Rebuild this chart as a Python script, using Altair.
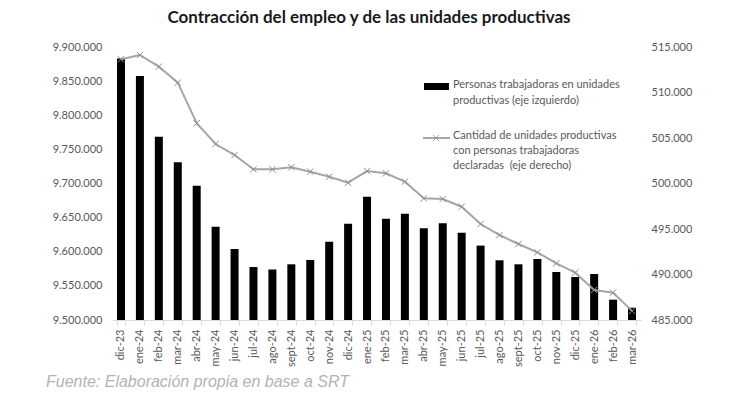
import altair as alt
import pandas as pd

# Monthly series, Dec-2023 to Mar-2026
meses = [
    "dic-23", "ene-24", "feb-24", "mar-24", "abr-24", "may-24", "jun-24",
    "jul-24", "ago-24", "sept-24", "oct-24", "nov-24", "dic-24", "ene-25",
    "feb-25", "mar-25", "abr-25", "may-25", "jun-25", "jul-25", "ago-25",
    "sept-25", "oct-25", "nov-25", "dic-25", "ene-26", "feb-26", "mar-26",
]
personas = [
    9883000, 9857500, 9768600, 9731000, 9696800, 9636700, 9604000,
    9577600, 9574000, 9581600, 9588000, 9614700, 9641000, 9680700,
    9648400, 9655800, 9634400, 9641700, 9628000, 9609000, 9587500,
    9581600, 9589400, 9570300, 9563000, 9567400, 9529800, 9518000,
]
unidades = [
    513650, 514120, 512840, 511080, 506620, 504340, 503130,
    501560, 501560, 501780, 501300, 500750, 500090, 501370,
    501120, 500200, 498370, 498300, 497450, 495550, 494340,
    493350, 492440, 491230, 490200, 488300, 488000, 486000,
]

izq_ticks = [9500000, 9550000, 9600000, 9650000, 9700000, 9750000, 9800000, 9850000, 9900000]
der_ticks = [485000, 490000, 495000, 500000, 505000, 510000, 515000]

titulo = "Contracción del empleo y de las unidades productivas"
fuente = "Fuente: Elaboración propia en base a SRT"
leyenda_barras = ["Personas trabajadoras en unidades", "productivas (eje izquierdo)"]
leyenda_linea = ["Cantidad de unidades productivas", "con personas trabajadoras", "declaradas\u00a0 (eje derecho)"]

df = pd.DataFrame({"mes": meses, "personas": personas, "unidades": unidades})

FONT = "Lato"
GRIS = "#595959"
LINEA = "#a6a6a6"
miles = "replace(format(datum.value, ',d'), /,/g, '.')"

x_enc = alt.X(
    "mes:N", sort=meses, title=None,
    scale=alt.Scale(paddingInner=0.55, paddingOuter=0.25),
    axis=alt.Axis(
        labelAngle=-90, labelFont=FONT, labelFontSize=11, labelColor=GRIS,
        labelPadding=4, domainColor="#d9d9d9", tickColor="#d9d9d9",
        tickBand="extent", tickSize=5, grid=False,
    ),
)

barras = alt.Chart(df).mark_bar(color="black", size=8).encode(
    x=x_enc,
    y=alt.Y(
        "personas:Q", title=None,
        scale=alt.Scale(domain=[9500000, 9900000], nice=False, zero=False),
        axis=alt.Axis(
            orient="left", values=izq_ticks, labelExpr=miles, labelFont=FONT,
            labelFontSize=11, labelColor=GRIS, domain=False, ticks=False,
            grid=False, labelPadding=10,
        ),
    ),
    y2=alt.datum(9500000),
)

x_shape = "M-1,-1L1,1M-1,1L1,-1"

linea = alt.Chart(df).mark_line(
    color=LINEA, strokeWidth=2,
    point=alt.OverlayMarkDef(shape=x_shape, size=40, filled=False, stroke="#8c8c8c", strokeWidth=1),
).encode(
    x=alt.X("mes:N", sort=meses),
    y=alt.Y(
        "unidades:Q", title=None,
        scale=alt.Scale(domain=[485000, 515000], nice=False, zero=False),
        axis=alt.Axis(
            orient="right", values=der_ticks, labelExpr=miles, labelFont=FONT,
            labelFontSize=11, labelColor=GRIS, domain=False, ticks=False,
            grid=False, labelPadding=10,
        ),
    ),
)

# Hand-placed legend and captions
uno = df.head(1)

ley_rect = alt.Chart(uno).mark_rect(color="black").encode(
    x=alt.value(312), x2=alt.value(337), y=alt.value(36), y2=alt.value(43)
)
ley_regla = alt.Chart(uno).mark_rule(color=LINEA, strokeWidth=2).encode(
    x=alt.value(311), x2=alt.value(338), y=alt.value(91)
)
ley_punto = alt.Chart(uno).mark_point(
    shape=x_shape, size=40, filled=False, stroke="#8c8c8c", strokeWidth=1
).encode(x=alt.value(324), y=alt.value(91))

ley_txt1 = alt.Chart(uno).mark_text(
    align="left", baseline="top", font=FONT, fontSize=11, color=GRIS, lineHeight=16
).encode(x=alt.value(341), y=alt.value(32), text=alt.value(leyenda_barras))
ley_txt2 = alt.Chart(uno).mark_text(
    align="left", baseline="top", font=FONT, fontSize=11, color=GRIS, lineHeight=15
).encode(x=alt.value(341), y=alt.value(83), text=alt.value(leyenda_linea))

tit = alt.Chart(uno).mark_text(
    align="center", baseline="middle", font=FONT, fontSize=17, fontWeight="bold", color="#1a1a1a"
).encode(x=alt.value(257), y=alt.value(-29), text=alt.value(titulo))

pie = alt.Chart(uno).mark_text(
    align="left", baseline="middle", font="Liberation Sans", fontSize=16,
    fontStyle="italic", color="#b3b3b3"
).encode(x=alt.value(-66), y=alt.value(335), text=alt.value(fuente))

chart = alt.layer(
    barras, linea, ley_rect, ley_regla, ley_punto, ley_txt1, ley_txt2, tit, pie
).resolve_scale(y="independent").properties(
    width=529, height=273,
    autosize=alt.AutoSizeParams(type="none"),
    padding={"left": 112, "top": 47, "right": 103, "bottom": 99},
    background="white",
).configure_view(stroke=None)

chart.save("out.html", embed_options={"renderer": "svg", "actions": False})
